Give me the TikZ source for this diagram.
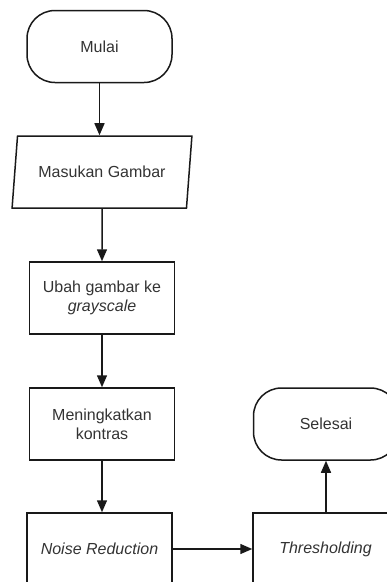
\documentclass[tikz,border=0pt]{standalone}
\usepackage{fontspec}
\setmainfont{Liberation Sans}
\usetikzlibrary{shapes.geometric,arrows.meta}
\begin{document}
\begin{tikzpicture}[x=1pt,y=-1pt,
	box/.style={draw=black!90, line width=1.5pt, text=black!80, font=\fontsize{16}{19}\selectfont, align=center, minimum width=145pt, minimum height=72pt, inner sep=2pt},
	terminal/.style={box, rounded corners=28pt},
	process/.style={box, rectangle},
	io/.style={box, trapezium, trapezium left angle=75, trapezium right angle=105, trapezium stretches=true, minimum width=180pt},
	flow/.style={draw=black!90, line width=1.5pt, -{Triangle[length=12pt,width=10pt]}}]
	\useasboundingbox (0,0) rectangle (387,582);
	\node[terminal] (mulai) at (99.5,46.5) {Mulai};
	\node[io] (masukan) at (102,172) {Masukan Gambar};
	\node[process] (gray) at (102,298) {Ubah gambar ke\\ \textit{grayscale}};
	\node[process] (kontras) at (102,424) {Meningkatkan\\ kontras};
	\node[process] (noise) at (99.5,549) {\textit{Noise Reduction}};
	\node[process] (thresh) at (325.5,549) {\textit{Thresholding}};
	\node[terminal] (selesai) at (326,424) {Selesai};
	\draw[flow] (mulai) -- (mulai |- masukan.north);
	\draw[flow] (masukan.south) -- (gray.north);
	\draw[flow] (gray) -- (kontras);
	\draw[flow] (kontras.south) -- (kontras.south |- noise.north);
	\draw[flow] (noise) -- (thresh);
	\draw[flow] (thresh.north -| selesai) -- (selesai);
\end{tikzpicture}
\end{document}
